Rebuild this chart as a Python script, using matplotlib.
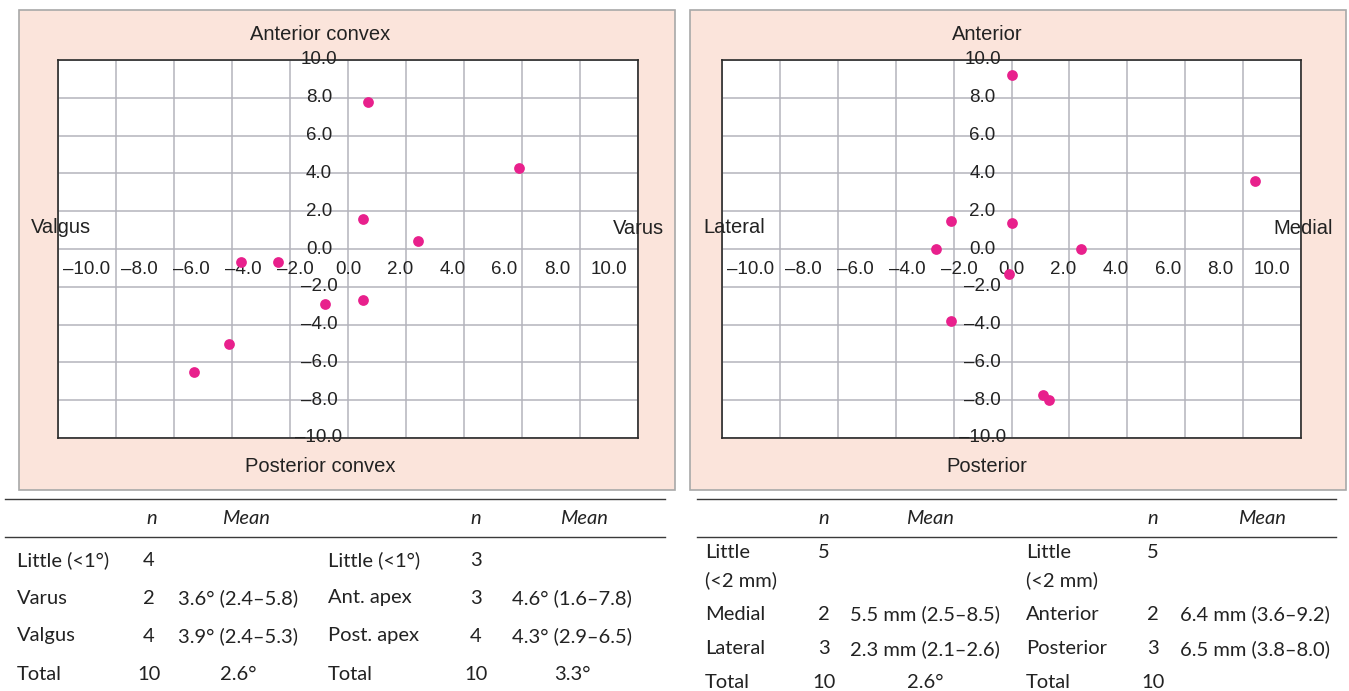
import matplotlib.pyplot as plt
from matplotlib.patches import Rectangle
from matplotlib.lines import Line2D

# Points
left_x = [0.7, 5.9, 0.5, 2.4, -3.7, -2.4, -0.8, 0.5, -4.1, -5.3]
left_y = [7.8, 4.3, 1.6, 0.4, -0.7, -0.7, -2.9, -2.7, -5.0, -6.5]
right_x = [0.0, 8.4, -2.1, 0.0, -2.6, 2.4, -0.1, -2.1, 1.1, 1.3]
right_y = [9.2, 3.6, 1.5, 1.4, 0.0, 0.0, -1.3, -3.8, -7.7, -8.0]
ticks = [-10, -8, -6, -4, -2, 0, 2, 4, 6, 8, 10]

left_names = ["Anterior convex", "Posterior convex", "Valgus", "Varus"]
right_names = ["Anterior", "Posterior", "Lateral", "Medial"]

# Tables under the panels
left_lab1 = ["Little (<1°)", "Varus", "Valgus", "Total"]
left_n1 = ["4", "2", "4", "10"]
left_mean1 = ["", "3.6° (2.4–5.8)", "3.9° (2.4–5.3)", "2.6°"]
left_lab2 = ["Little (<1°)", "Ant. apex", "Post. apex", "Total"]
left_n2 = ["3", "3", "4", "10"]
left_mean2 = ["", "4.6° (1.6–7.8)", "4.3° (2.9–6.5)", "3.3°"]

right_lab1 = ["Little\n(<2 mm)", "Medial", "Lateral", "Total"]
right_n1 = ["5", "2", "3", "10"]
right_mean1 = ["", "5.5 mm (2.5–8.5)", "2.3 mm (2.1–2.6)", "2.6°"]
right_lab2 = ["Little\n(<2 mm)", "Anterior", "Posterior", "Total"]
right_n2 = ["5", "2", "3", "10"]
right_mean2 = ["", "6.4 mm (3.6–9.2)", "6.5 mm (3.8–8.0)", ""]

W, H = 1349, 691
PINK = "#FBE4DB"
DOT = "#E8208C"
GRID = "#B4B4BC"
AX_FONT = ["Liberation Sans", "DejaVu Sans"]
TAB_FONT = ["Lato", "DejaVu Sans"]


def fx(x):
    return x / W


def fy(y):
    return 1 - y / H


fig = plt.figure(figsize=(W / 100, H / 100), dpi=100)

# pink panel backgrounds
for x0, x1 in [(19, 675), (690, 1346)]:
    fig.patches.append(Rectangle((fx(x0), fy(490)), (x1 - x0) / W, 480 / H,
                                 transform=fig.transFigure, facecolor=PINK,
                                 edgecolor="#A8A8A8", linewidth=1.2, zorder=-1))


def panel(left, right, xs, ys, names, cx):
    ax = fig.add_axes([fx(left), fy(438), (right - left) / W, 378 / H])
    ax.set_xlim(-10, 10)
    ax.set_ylim(-10, 10)
    ax.set_xticks(ticks)
    ax.set_yticks(ticks)
    ax.tick_params(length=0, labelbottom=False, labelleft=False)
    ax.grid(True, color=GRID, linewidth=1.1)
    ax.set_axisbelow(True)
    for s in ax.spines.values():
        s.set_color("#2a2a2a")
        s.set_linewidth(1.2)
    for t in ticks:
        lab = f"{t:.1f}".replace("-", "–")
        ax.text(t * 0.9, -1.1, lab, ha="center", va="center", fontsize=13.5,
                family=AX_FONT, color="#222222", zorder=4)
        ax.text(-1.0, t, lab, ha="center", va="center", fontsize=13.5,
                family=AX_FONT, color="#222222", zorder=4, clip_on=False)
    ax.scatter(xs, ys, s=60, color=DOT, linewidths=0, zorder=5, clip_on=False)
    # direction labels
    top, bottom, lft, rgt = names
    kw = dict(ha="center", va="center", fontsize=14.5, family=AX_FONT, color="#222222")
    fig.text(fx(cx[0]), fy(35), top, **kw)
    fig.text(fx(cx[0]), fy(467), bottom, **kw)
    fig.text(fx(cx[1]), fy(227), lft, **kw)
    fig.text(fx(cx[2]), fy(228), rgt, **kw)
    return ax


panel(58, 638, left_x, left_y, left_names, (320, 61, 638))
panel(722, 1301, right_x, right_y, right_names, (987, 734, 1303))


def hline(x0, x1, y, lw=1.0):
    fig.add_artist(Line2D([fx(x0), fx(x1)], [fy(y), fy(y)], transform=fig.transFigure,
                          color="#3a3a3a", linewidth=lw))


def table(cols, rows_y, labs1, n1, mean1, labs2, n2, mean2, heads, x0, x1):
    hline(x0, x1, 499)
    hline(x0, x1, 537)
    fs = 14.5
    for hx, h in zip(heads, ["n", "Mean", "n", "Mean"]):
        fig.text(fx(hx), fy(519), h, ha="center", va="center", fontsize=fs,
                 family=TAB_FONT, style="italic", color="#222222")
    for y, a, b, c, d, e, f in zip(rows_y, labs1, n1, mean1, labs2, n2, mean2):
        for i, line in enumerate(a.split("\n")):
            fig.text(fx(cols[0]), fy(y + 28 * i), line, ha="left", va="center",
                     fontsize=fs, family=TAB_FONT, color="#222222")
        for i, line in enumerate(d.split("\n")):
            fig.text(fx(cols[3]), fy(y + 28 * i), line, ha="left", va="center",
                     fontsize=fs, family=TAB_FONT, color="#222222")
        for xx, txt in [(cols[1], b), (cols[2], c), (cols[4], e), (cols[5], f)]:
            fig.text(fx(xx), fy(y), txt, ha="center", va="center",
                     fontsize=fs, family=TAB_FONT, color="#222222")


table((17, 149, 238, 328, 476, 572), [560, 598, 636, 675],
      left_lab1, left_n1, left_mean1, left_lab2, left_n2, left_mean2,
      (152, 246, 476, 584), 5, 665)
table((705, 824, 925, 1026, 1153, 1255), [552, 614, 649, 683],
      right_lab1, right_n1, right_mean1, right_lab2, right_n2, right_mean2,
      (824, 930, 1153, 1262), 697, 1336)

fig.savefig("out.png", dpi=100, facecolor="white")
